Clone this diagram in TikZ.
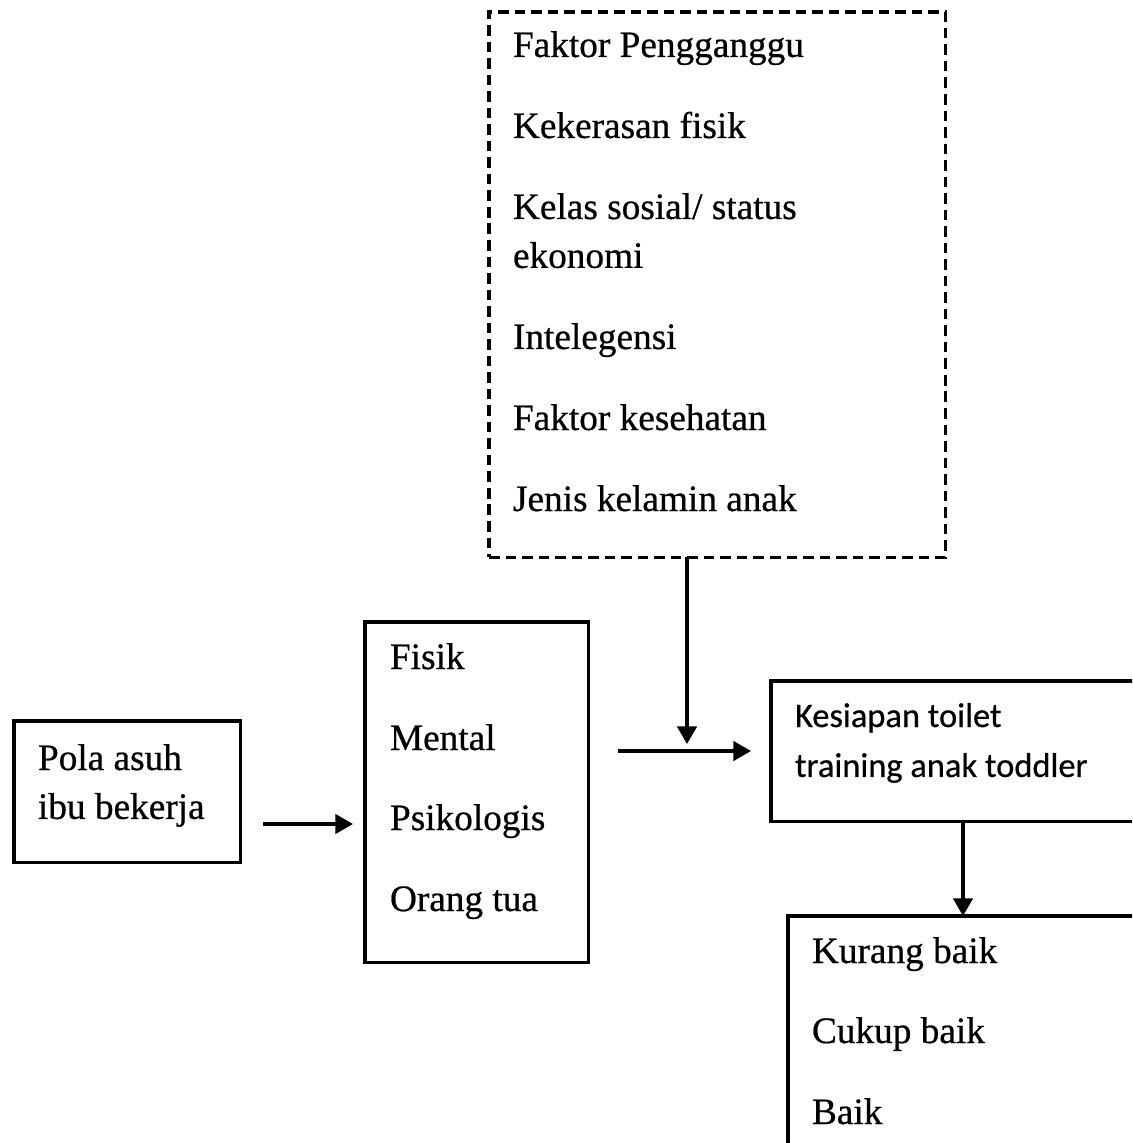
\documentclass[tikz,border=0pt]{standalone}
\usepackage{fontspec}
\setmainfont[FakeBold=0.6]{Liberation Serif}
\newfontfamily\calibrifont[FakeBold=0.5]{Carlito}
\usetikzlibrary{arrows.meta}
\tikzset{
  box/.style={draw, line width=0.9pt, anchor=north west, inner sep=0pt, outer sep=0pt},
  dbox/.style={box, dash pattern=on 3pt off 1.7pt},
  txt/.style={anchor=base west, inner sep=0pt, outer sep=0pt, font=\fontsize{10.6}{13.9}\selectfont},
  ctxt/.style={anchor=base west, inner sep=0pt, outer sep=0pt, font=\calibrifont\fontsize{9.8}{14.2}\selectfont},
  arr/.style={line width=0.9pt, -{Triangle[length=5pt,width=5.5pt]}}
}
\begin{document}
\begin{tikzpicture}[x=0.01cm, y=-0.01cm]
\useasboundingbox (0,0) rectangle (1132,1143);
\clip (0,0) rectangle (1132,1143);
% boxes
\node[dbox, minimum width=4.56cm, minimum height=5.45cm] (dash) at (489,12) {};
\node[box, minimum width=2.26cm, minimum height=1.41cm] (pola) at (14,721) {};
\node[box, minimum width=2.23cm, minimum height=3.40cm] (fisik) at (365,622) {};
\node[box, minimum width=3.90cm, minimum height=1.40cm] (kes) at (771,681) {};
\node[box, minimum width=3.70cm, minimum height=2.60cm] (hasil) at (788,916) {};
% dashed box texts
\node[txt] (f1) at (513,57) {Faktor Pengganggu};
\node[txt] (f2) at (513,138) {Kekerasan fisik};
\node[txt] (f3) at (513,219) {\parbox[t]{4cm}{Kelas sosial/ status\\ekonomi}};
\node[txt] (f4) at (513,349) {Intelegensi};
\node[txt] (f5) at (513,430) {Faktor kesehatan};
\node[txt] (f6) at (513,511) {Jenis kelamin anak};
% pola
\node[txt] (p1) at (38,770) {\parbox[t]{3cm}{Pola asuh\\ibu bekerja}};
% fisik box texts
\node[txt] (m1) at (390,669) {Fisik};
\node[txt] (m2) at (390,750) {Mental};
\node[txt] (m3) at (390,830) {Psikologis};
\node[txt] (m4) at (390,911) {Orang tua};
% kesiapan
\node[ctxt] (k1) at (795,727) {\parbox[t]{4cm}{Kesiapan toilet\\training anak toddler}};
% hasil
\node[txt] (h1) at (812,963) {Kurang baik};
\node[txt] (h2) at (812,1043) {Cukup baik};
\node[txt] (h3) at (812,1124) {Baik};
% connector coordinates
\coordinate (a1s) at (263,824);
\coordinate (a1e) at (353,824);
\coordinate (a2s) at (618,751);
\coordinate (a2e) at (751,751);
\coordinate (a3e) at (687,744);
\coordinate (kx) at (963,0);
% connectors
\draw[arr] (a1s) -- (a1e);
\draw[arr] (a2s) -- (a2e);
\draw[arr] (dash.south -| a3e) -- (a3e);
\draw[arr] (kes.south -| kx) -- (hasil.north -| kx);
\end{tikzpicture}
\end{document}
